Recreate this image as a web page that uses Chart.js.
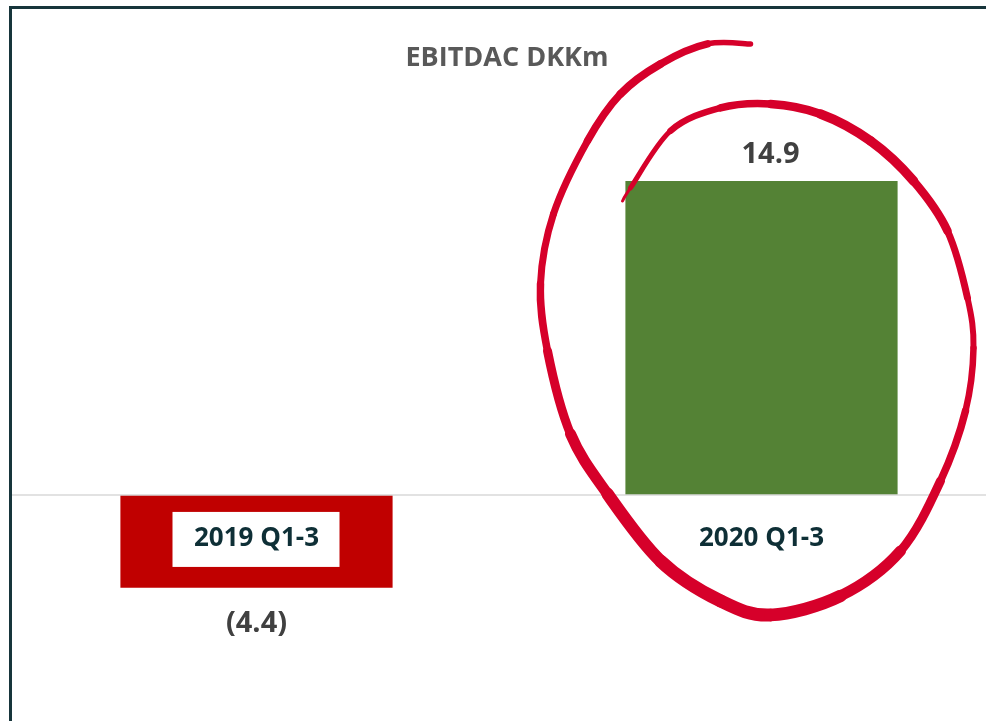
<!DOCTYPE html>
<html>
<head>
<meta charset="utf-8">
<script src="https://cdn.jsdelivr.net/npm/chart.js@4"></script>
<style>
    html, body { margin: 0; padding: 0; background: #fff; overflow: hidden; }
    #wrap { position: relative; width: 986px; height: 721px; overflow: hidden; }
    #frame { position: absolute; left: 9px; top: 6px; right: -10px; bottom: -10px;
             border-left: 3px solid #17353b; border-top: 3px solid #17353b; pointer-events: none; }
    #box { position: absolute; left: 4px; top: 0; width: 1010px; height: 721px; }
</style>
</head>
<body>
<div id="wrap">
    <div id="box"><canvas id="ebitdacChart"></canvas></div>
    <div id="frame"></div>
</div>
<script>
// data
const categories = ['2019 Q1-3', '2020 Q1-3'];
const ebitdac = [-4.4, 14.9];
const barColors = ['#c00000', '#548235'];
const chartTitle = 'EBITDAC DKKm';

const catFont = 'bold 26px "Open Sans", sans-serif';
const valueFont = 'bold 29px "Open Sans", sans-serif';

// angka negatif ditulis dalam kurung
function fmt(v) {
    return v < 0 ? '(' + Math.abs(v).toFixed(1) + ')' : v.toFixed(1);
}

const labelPlugin = {
    id: 'labelPlugin',
    afterDatasetsDraw(chart) {
        const { ctx, chartArea, scales } = chart;
        const zeroY = scales.y.getPixelForValue(0);
        const meta = chart.getDatasetMeta(0);

        ctx.save();
        // garis nol
        ctx.strokeStyle = '#d9d9d9';
        ctx.lineWidth = 1.5;
        ctx.beginPath();
        ctx.moveTo(8, zeroY);
        ctx.lineTo(chartArea.right, zeroY);
        ctx.stroke();

        // judul
        ctx.font = 'bold 27px "Open Sans", sans-serif';
        ctx.fillStyle = '#595959';
        ctx.textAlign = 'center';
        ctx.textBaseline = 'middle';
        ctx.fillText(chartTitle, (chartArea.left + chartArea.right) / 2 - 2, 58);

        meta.data.forEach((bar, i) => {
            const v = ebitdac[i];
            // label nilai
            ctx.font = valueFont;
            ctx.fillStyle = '#404040';
            if (v >= 0) {
                ctx.fillText(fmt(v), bar.x + 9, bar.y - 26);
            } else {
                ctx.fillText(fmt(v), bar.x, bar.y + 36);
            }
            // label kategori
            const ly = zeroY + 44;
            if (v < 0) {
                ctx.fillStyle = '#ffffff';
                ctx.fillRect(bar.x - 84, ly - 27, 167, 55);
            }
            ctx.font = catFont;
            ctx.fillStyle = '#0e2f36';
            ctx.fillText(categories[i], bar.x, ly);
        });
        ctx.restore();
    }
};

// lingkaran merah coretan tangan di sekitar batang 2020
const scribblePlugin = {
    id: 'scribblePlugin',
    afterDraw(chart) {
        const bar = chart.getDatasetMeta(0).data[1];
        const cx = bar.x, cy = bar.base;
        // offset dari tengah bawah batang
        const pts = [
            [-11, -451, 4], [-54, -451, 7], [-101, -431, 8], [-141, -401, 8], [-174, -354, 7],
            [-208, -281, 7], [-221, -211, 7], [-214, -144, 8], [-191, -61, 10], [-154, -1, 12],
            [-101, 66, 13], [-41, 106, 13], [9, 120, 13], [79, 101, 12], [139, 56, 10],
            [179, -14, 8], [204, -84, 7], [212, -147, 6], [206, -197, 6], [186, -264, 8],
            [152, -314, 9], [109, -354, 10], [59, -381, 9], [9, -391, 8], [-41, -387, 7],
            [-91, -364, 6], [-131, -307, 4], [-139, -294, 2]
        ];
        const ctx = chart.ctx;
        ctx.save();
        ctx.strokeStyle = '#d6002a';
        ctx.lineCap = 'round';
        ctx.lineJoin = 'round';
        for (let i = 0; i < pts.length - 1; i++) {
            const p0 = pts[Math.max(i - 1, 0)], p1 = pts[i], p2 = pts[i + 1], p3 = pts[Math.min(i + 2, pts.length - 1)];
            const c1x = p1[0] + (p2[0] - p0[0]) / 6, c1y = p1[1] + (p2[1] - p0[1]) / 6;
            const c2x = p2[0] - (p3[0] - p1[0]) / 6, c2y = p2[1] - (p3[1] - p1[1]) / 6;
            ctx.lineWidth = (p1[2] + p2[2]) / 2;
            ctx.beginPath();
            ctx.moveTo(cx + p1[0], cy + p1[1]);
            ctx.bezierCurveTo(cx + c1x, cy + c1y, cx + c2x, cy + c2y, cx + p2[0], cy + p2[1]);
            ctx.stroke();
        }
        ctx.restore();
    }
};

const ctx = document.getElementById('ebitdacChart').getContext('2d');
new Chart(ctx, {
    type: 'bar',
    data: {
        labels: categories,
        datasets: [{
            label: chartTitle,
            data: ebitdac,
            backgroundColor: barColors,
            borderWidth: 0,
            barPercentage: 0.539,
            categoryPercentage: 1
        }]
    },
    options: {
        responsive: true,
        maintainAspectRatio: false,
        animation: false,
        layout: { padding: 0 },
        plugins: {
            legend: { display: false },
            tooltip: { enabled: false }
        },
        scales: {
            x: { display: false },
            y: { display: false, min: -10.73, max: 23.49 }
        }
    },
    plugins: [labelPlugin, scribblePlugin]
});
</script>
</body>
</html>
